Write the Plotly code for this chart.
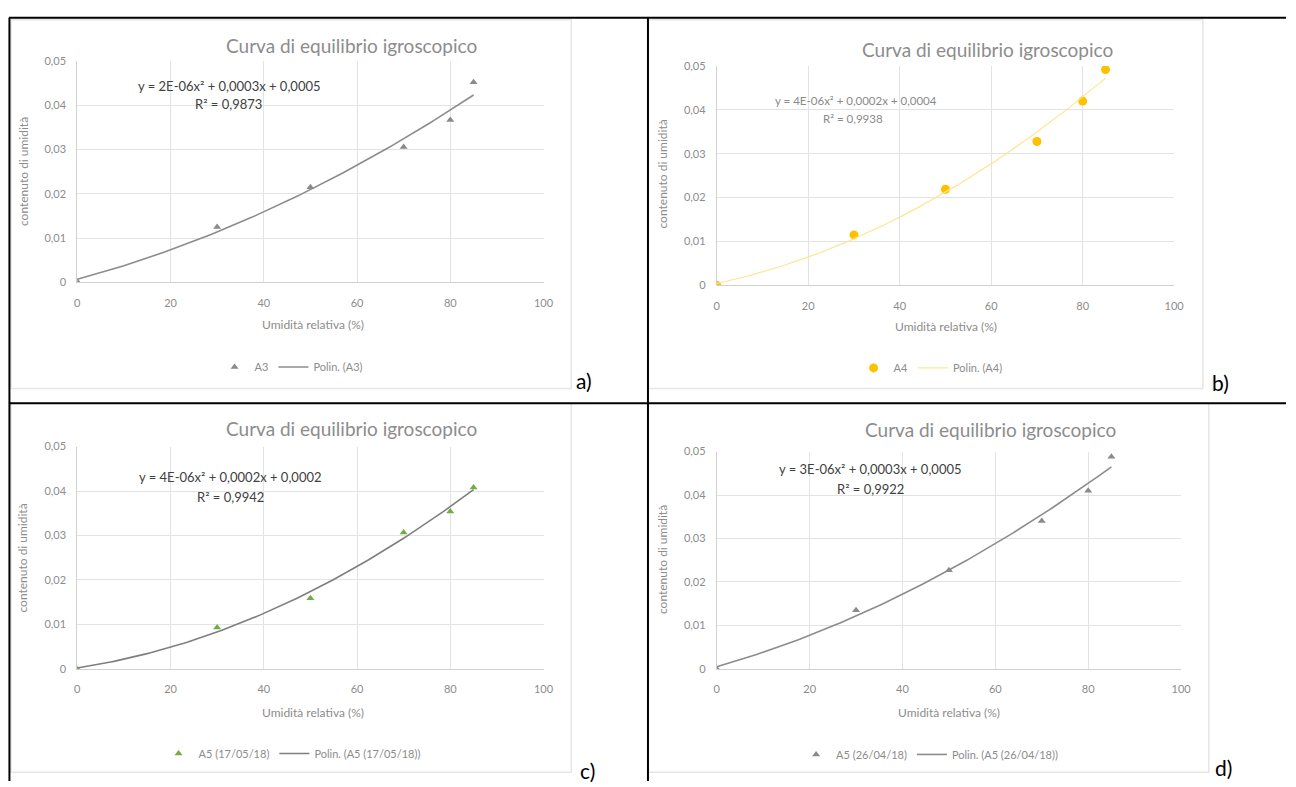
import numpy as np
import plotly.graph_objects as go

W, H = 1296, 787

# ---------------- data ----------------
umidita = [0, 30, 50, 70, 80, 85]
a3 = [0.0002, 0.0125, 0.0215, 0.0306, 0.0367, 0.0452]
a4 = [0.0, 0.0115, 0.0219, 0.0328, 0.0420, 0.0492]
a5_1705 = [0.0, 0.0093, 0.0159, 0.0307, 0.0354, 0.0408]
a5_2604 = [0.0, 0.0135, 0.0227, 0.0340, 0.0410, 0.0488]

series_values = [a3, a4, a5_1705, a5_2604]
series_names = ["A3", "A4", "A5 (17/05/18)", "A5 (26/04/18)"]
trend_names = ["Polin. (A3)", "Polin. (A4)", "Polin. (A5 (17/05/18))", "Polin. (A5 (26/04/18))"]
equations = ["y = 2E-06x² + 0,0003x + 0,0005", "y = 4E-06x² + 0,0002x + 0,0004",
             "y = 4E-06x² + 0,0002x + 0,0002", "y = 3E-06x² + 0,0003x + 0,0005"]
r2_texts = ["R² = 0,9873", "R² = 0,9938", "R² = 0,9942", "R² = 0,9922"]
panel_labels = ["a)", "b)", "c)", "d)"]
chart_title = "Curva di equilibrio igroscopico"
x_title = "Umidità relativa (%)"
y_title = "contenuto di umidità"
x_ticks = [0, 20, 40, 60, 80, 100]
y_ticks = [0, 0.01, 0.02, 0.03, 0.04, 0.05]

# ---------------- styles / layout (pixels) ----------------
FONT = "Lato, 'Liberation Sans', sans-serif"
marker_styles = [
    dict(symbol="triangle-up", size=7, color="#8a8a8a"),
    dict(symbol="circle", size=9, color="#FFC000"),
    dict(symbol="triangle-up", size=7, color="#70AD47"),
    dict(symbol="triangle-up", size=7, color="#8a8a8a"),
]
line_styles = [
    dict(color="#8c8c8c", width=1.6),
    dict(color="#FFE58F", width=1.2),
    dict(color="#7f7f7f", width=1.6),
    dict(color="#8c8c8c", width=1.6),
]
eq_styles = [
    dict(size=13, color="#404040"),
    dict(size=11.5, color="#8a8a8a"),
    dict(size=13, color="#404040"),
    dict(size=13, color="#404040"),
]
panels = [
    dict(plot=(75, 546, 55, 280), title=(352, 39), eq=(229, 80), r2=(228, 99), xt=(313, 323),
         yt=(20, 167), leg=(291, 366), lab=(587, 380), box=(8, 574, 13, 388)),
    dict(plot=(721, 1183, 60, 283), title=(994, 43), eq=(862, 95), r2=(859, 113), xt=(953, 325),
         yt=(666, 170), leg=(937, 367), lab=(1230, 382), box=(652, 1212, 13, 388)),
    dict(plot=(75, 546, 447, 673), title=(352, 429), eq=(230, 478), r2=(230, 498), xt=(313, 717),
         yt=(20, 560), leg=(292, 759), lab=(590, 776), box=(8, 574, 403, 778)),
    dict(plot=(721, 1190, 452, 673), title=(998, 430), eq=(876, 470), r2=(876, 490), xt=(956, 717),
         yt=(666, 562), leg=(936, 760), lab=(1233, 773), box=(652, 1218, 403, 778)),
]


def px(x):
    return x / W


def py(y):
    return 1 - y / H


fig = go.Figure()
annotations = []
shapes = []
layout_extra = {}

for i, (vals, p) in enumerate(zip(series_values, panels)):
    k = "" if i == 0 else str(i + 1)
    xa, ya = "x" + k, "y" + k
    leg = "legend" + k
    x0, x1, y0, y1 = p["plot"]

    # trend line: quadratic least-squares fit of the plotted points
    coef = np.polyfit(umidita, vals, 2)
    xs = np.linspace(min(umidita), max(umidita), 120)
    fig.add_trace(go.Scatter(x=umidita, y=vals, mode="markers", name=series_names[i],
                             marker=marker_styles[i], xaxis=xa, yaxis=ya, legend=leg))
    fig.add_trace(go.Scatter(x=xs, y=np.polyval(coef, xs), mode="lines", name=trend_names[i],
                             line=line_styles[i], xaxis=xa, yaxis=ya, legend=leg))

    axis_common = dict(showgrid=True, gridcolor="#e3e3e3", gridwidth=1, zeroline=False,
                       showline=True, linecolor="#d0d0d0", linewidth=1, ticks="",
                       tickfont=dict(family=FONT, size=11, color="#8c8c8c"))
    layout_extra["xaxis" + k] = dict(axis_common, domain=[px(x0), px(x1)], anchor=ya,
                                     range=[0, 100], tickvals=x_ticks, ticklabelstandoff=10)
    layout_extra["yaxis" + k] = dict(axis_common, domain=[py(y1), py(y0)], anchor=xa,
                                     range=[0, 0.05], tickvals=y_ticks, ticklabelstandoff=8)
    layout_extra[leg] = dict(x=px(p["leg"][0]), y=py(p["leg"][1]), xanchor="center", yanchor="middle",
                             orientation="h", bgcolor="rgba(0,0,0,0)",
                             font=dict(family=FONT, size=11, color="#8c8c8c"),
                             itemwidth=30, tracegroupgap=0)

    annotations += [
        dict(text=chart_title, x=px(p["title"][0]), y=py(p["title"][1]), xref="paper", yref="paper",
             showarrow=False, xanchor="center", yanchor="middle",
             font=dict(family=FONT, size=19, color="#8c8c8c")),
        dict(text=equations[i], x=px(p["eq"][0]), y=py(p["eq"][1]), xref="paper", yref="paper",
             showarrow=False, xanchor="center", yanchor="middle", font=dict(family=FONT, **eq_styles[i])),
        dict(text=r2_texts[i], x=px(p["r2"][0]), y=py(p["r2"][1]), xref="paper", yref="paper",
             showarrow=False, xanchor="center", yanchor="middle", font=dict(family=FONT, **eq_styles[i])),
        dict(text=x_title, x=px(p["xt"][0]), y=py(p["xt"][1]), xref="paper", yref="paper",
             showarrow=False, xanchor="center", yanchor="middle",
             font=dict(family=FONT, size=12, color="#8c8c8c")),
        dict(text=y_title, x=px(p["yt"][0]), y=py(p["yt"][1]), xref="paper", yref="paper",
             showarrow=False, xanchor="center", yanchor="middle", textangle=-90,
             font=dict(family=FONT, size=12, color="#8c8c8c")),
        dict(text=panel_labels[i], x=px(p["lab"][0]), y=py(p["lab"][1]), xref="paper", yref="paper",
             showarrow=False, xanchor="center", yanchor="middle",
             font=dict(family=FONT, size=21, color="#000000")),
    ]
    bx0, bx1, by0, by1 = p["box"]
    shapes.append(dict(type="rect", xref="paper", yref="paper", x0=px(bx0), x1=px(bx1),
                       y0=py(by1), y1=py(by0), line=dict(color="#e6e6e6", width=1.5), layer="below"))

# black table borders
border = dict(color="#000000", width=2)
shapes += [
    dict(type="line", xref="paper", yref="paper", x0=px(6), x1=1, y0=py(11), y1=py(11), line=border),
    dict(type="line", xref="paper", yref="paper", x0=px(6), x1=1, y0=py(403), y1=py(403), line=border),
    dict(type="line", xref="paper", yref="paper", x0=px(6.5), x1=px(6.5), y0=py(11), y1=0, line=border),
    dict(type="line", xref="paper", yref="paper", x0=px(651.5), x1=px(651.5), y0=py(11), y1=0, line=border),
]

fig.update_layout(
    width=W, height=H, margin=dict(l=0, r=0, t=0, b=0),
    paper_bgcolor="white", plot_bgcolor="white",
    separators=",.", showlegend=True,
    annotations=annotations, shapes=shapes,
    font=dict(family=FONT),
    **layout_extra,
)

fig.write_html("out.html", config={"displayModeBar": False},
               post_script="document.body.style.margin='0';document.body.style.overflow='hidden';")
